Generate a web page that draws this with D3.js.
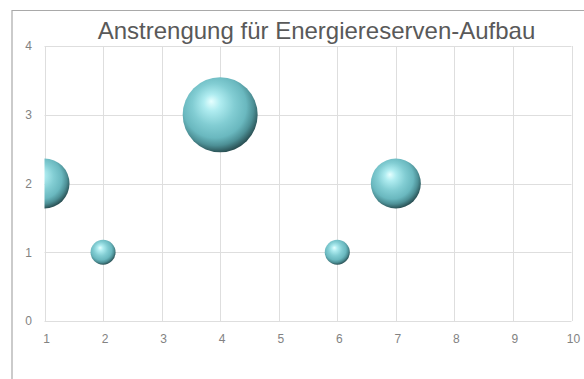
<!DOCTYPE html>
<html>
<head>
<meta charset="utf-8">
<script src="https://cdn.jsdelivr.net/npm/d3@7"></script>
<style>
  html, body { margin: 0; padding: 0; background: #fff; }
  svg { display: block; }
</style>
</head>
<body>
<script>
// Chart data
const title = "Anstrengung für Energiereserven-Aufbau";
const xValues = [1, 2, 4, 6, 7];
const yValues = [2, 1, 3, 1, 2];
const sizes   = [2, 1, 3, 1, 2];
const xTicks = [1, 2, 3, 4, 5, 6, 7, 8, 9, 10];
const yTicks = [0, 1, 2, 3, 4];

const W = 584, H = 379;
const plot = { left: 44.5, right: 571.5, top: 46, bottom: 321 };

const svg = d3.select("body").append("svg")
  .attr("width", W).attr("height", H);

const defs = svg.append("defs");
const grad = defs.append("radialGradient")
  .attr("id", "ball")
  .attr("cx", "0.45").attr("cy", "0.42").attr("r", "0.62")
  .attr("fx", "0.38").attr("fy", "0.32");
[
  [0.00, "#e6ffff"],
  [0.18, "#afecf0"],
  [0.45, "#82cdd3"],
  [0.68, "#6ab8bf"],
  [0.82, "#4d9096"],
  [1.00, "#1d393c"]
].forEach(([o, c]) => grad.append("stop").attr("offset", o).attr("stop-color", c));

defs.append("clipPath").attr("id", "plotClip")
  .append("rect")
  .attr("x", plot.left).attr("y", plot.top - 40)
  .attr("width", plot.right - plot.left + 40)
  .attr("height", plot.bottom - plot.top + 40);

// Outer frame (top and left edges visible)
svg.append("path")
  .attr("d", `M12,${H} L12,10.5 L${W},10.5`)
  .attr("fill", "none").attr("stroke", "#a9a9a9").attr("stroke-width", 1.2);

const x = d3.scaleLinear().domain([1, 10]).range([plot.left, plot.right]);
const y = d3.scaleLinear().domain([0, 4]).range([plot.bottom, plot.top]);
const r = d3.scaleLinear().domain([0, 3]).range([0, 37.5]);

// Gridlines
const grid = svg.append("g").attr("stroke", "#dedede").attr("stroke-width", 1);
grid.selectAll("line.v").data(xTicks).join("line")
  .attr("x1", d => Math.round(x(d)) + 0.5).attr("x2", d => Math.round(x(d)) + 0.5)
  .attr("y1", plot.top).attr("y2", plot.bottom);
grid.selectAll("line.h").data(yTicks).join("line")
  .attr("y1", d => Math.round(y(d)) + 0.5).attr("y2", d => Math.round(y(d)) + 0.5)
  .attr("x1", plot.left).attr("x2", plot.right);

// Axes (labels only)
const xAxis = svg.append("g")
  .attr("transform", `translate(1.5,${plot.bottom + 11})`)
  .call(d3.axisBottom(x).tickValues(xTicks).tickFormat(d3.format("d")).tickSize(0).tickPadding(2));
const yAxis = svg.append("g")
  .attr("transform", `translate(${plot.left - 13},0)`)
  .call(d3.axisLeft(y).tickValues(yTicks).tickFormat(d3.format("d")).tickSize(0).tickPadding(0));
[xAxis, yAxis].forEach(g => {
  g.select(".domain").remove();
  g.selectAll("text")
    .attr("fill", "#828282")
    .style("font-family", "'Liberation Sans', Arial, sans-serif")
    .style("font-size", "12px");
});
yAxis.selectAll("text").attr("text-anchor", "middle").attr("dx", "-3");

// Bubbles
const pts = xValues.map((v, i) => ({ x: v, y: yValues[i], s: sizes[i] }));
svg.append("g").attr("clip-path", "url(#plotClip)")
  .selectAll("circle").data(pts).join("circle")
  .attr("cx", d => x(d.x)).attr("cy", d => y(d.y))
  .attr("r", d => r(d.s))
  .attr("fill", "url(#ball)");

// Title
svg.append("text")
  .attr("x", 316.5).attr("y", 39)
  .attr("text-anchor", "middle")
  .attr("fill", "#595959")
  .style("font-family", "'Liberation Sans', Arial, sans-serif")
  .style("font-size", "24px")
  .text(title);
</script>
</body>
</html>
